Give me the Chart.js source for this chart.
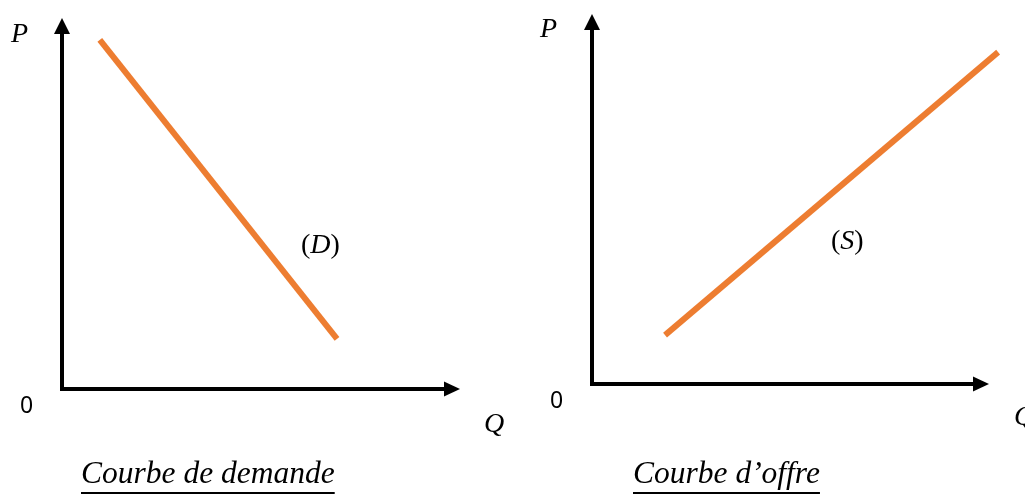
<!DOCTYPE html>
<html><head><meta charset="utf-8">
<script src="https://cdn.jsdelivr.net/npm/chart.js@4/dist/chart.umd.min.js"></script>
<style>
html,body{margin:0;padding:0;background:#fff;width:1025px;height:494px;overflow:hidden;}
#wrap{position:relative;width:1025px;height:494px;}
canvas{position:absolute;top:0;}
.lbl{position:absolute;white-space:nowrap;line-height:1;color:#000;}
.m{font-family:"Liberation Serif","DejaVu Serif",serif;font-style:italic;font-size:28px;}
.m .u{font-style:normal;}
.z{font-family:"Noto Sans",sans-serif;font-size:23px;}
.t{font-family:"Liberation Serif",serif;font-style:italic;font-size:31.5px;text-decoration:underline;text-decoration-thickness:2px;text-underline-offset:9px;}
</style></head>
<body><div id="wrap">
<canvas id="c1" width="512" height="494" style="left:0"></canvas>
<canvas id="c2" width="513" height="494" style="left:512px"></canvas>
<div class="lbl m" style="left:11px;top:18.5px">P</div>
<div class="lbl z" style="left:20px;top:393px">0</div>
<div class="lbl m" style="left:484px;top:408.5px">Q</div>
<div class="lbl m" style="left:301px;top:229.5px"><span class="u">(</span>D<span class="u">)</span></div>
<div class="lbl t" style="left:81px;top:456.5px">Courbe de demande</div>
<div class="lbl m" style="left:540px;top:13.5px">P</div>
<div class="lbl z" style="left:550px;top:388px">0</div>
<div class="lbl m" style="left:1014px;top:401.5px">Q</div>
<div class="lbl m" style="left:831px;top:225.5px"><span class="u">(</span>S<span class="u">)</span></div>
<div class="lbl t" style="left:633px;top:456.5px">Courbe d’offre</div>
</div>
<script>
// Demand curve (D)
const demandQ = [0.95, 6.91];
const demandP = [9.41, 1.35];
// Supply curve (S)
const supplyQ = [1.84, 10.23];
const supplyP = [1.32, 8.97];

const axesPlugin = {
  id: 'arrowAxes',
  afterDraw(chart) {
    const {ctx, chartArea: a, scales: {x, y}} = chart;
    const ox = x.getPixelForValue(0), oy = y.getPixelForValue(0);
    ctx.save();
    ctx.strokeStyle = '#000'; ctx.fillStyle = '#000';
    ctx.lineWidth = 4; ctx.lineJoin = 'miter'; ctx.lineCap = 'butt';
    ctx.beginPath();
    ctx.moveTo(ox, a.top + 14); ctx.lineTo(ox, oy); ctx.lineTo(a.right - 14, oy);
    ctx.stroke();
    ctx.beginPath();
    ctx.moveTo(ox, a.top); ctx.lineTo(ox - 8, a.top + 16); ctx.lineTo(ox + 8, a.top + 16);
    ctx.closePath(); ctx.fill();
    ctx.beginPath();
    ctx.moveTo(a.right, oy); ctx.lineTo(a.right - 16, oy - 7.5); ctx.lineTo(a.right - 16, oy + 7.5);
    ctx.closePath(); ctx.fill();
    ctx.restore();
  }
};

function make(id, qs, ps, pad) {
  return new Chart(document.getElementById(id), {
    type: 'scatter',
    data: { datasets: [{
      data: qs.map((q, i) => ({x: q, y: ps[i]})),
      showLine: true, borderColor: '#ED7D31', borderWidth: 6,
      borderCapStyle: 'butt', pointRadius: 0, clip: false
    }]},
    options: {
      responsive: false, animation: false,
      layout: { padding: pad },
      plugins: { legend: {display: false}, tooltip: {enabled: false} },
      scales: {
        x: { type: 'linear', min: 0, max: 10, display: false },
        y: { type: 'linear', min: 0, max: 10, display: false }
      }
    },
    plugins: [axesPlugin]
  });
}
make('c1', demandQ, demandP, {left: 62, top: 18, right: 52, bottom: 105});
make('c2', supplyQ, supplyP, {left: 80, top: 14, right: 36, bottom: 110});
</script>
</body></html>
